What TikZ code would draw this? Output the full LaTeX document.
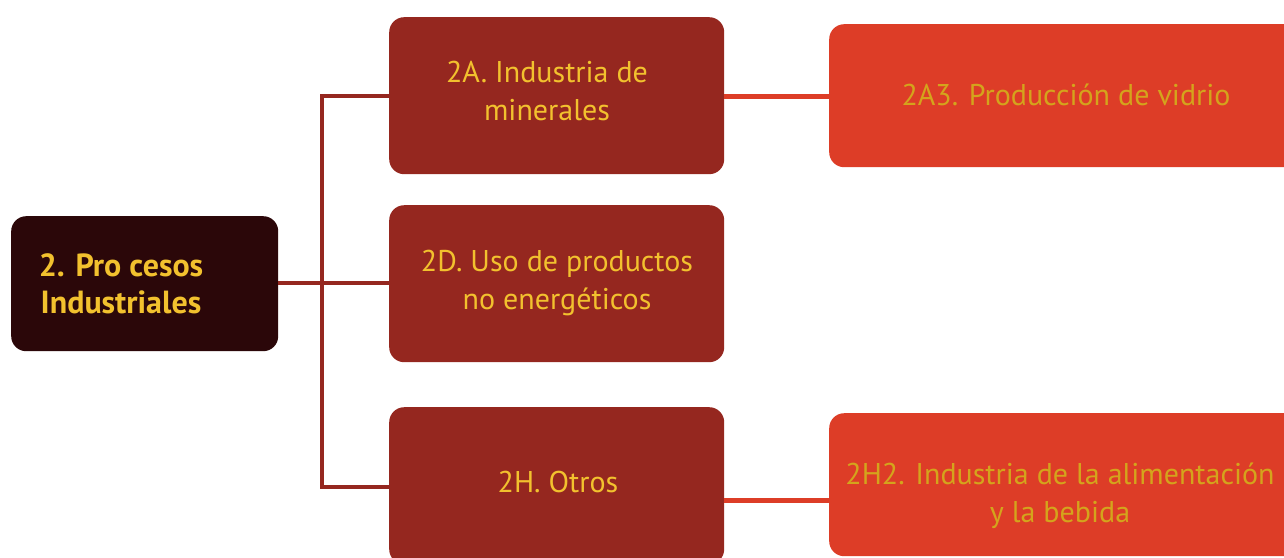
\documentclass[tikz,border=0pt]{standalone}
\usepackage{fontspec}
\setmainfont{PT Sans}
\definecolor{cDark}{HTML}{2B0709}
\definecolor{cMid}{HTML}{95271F}
\definecolor{cLight}{HTML}{DD3D27}
\definecolor{cYel}{HTML}{F2C12E}
\definecolor{cGold}{HTML}{D4A41C}
\tikzset{
  box/.style={rounded corners=15pt, inner sep=0pt, anchor=north west},
  midbox/.style={box, fill=cMid, minimum width=335pt, minimum height=157pt},
  lightbox/.style={box, fill=cLight, minimum width=470pt, minimum height=143pt},
  txt/.style={align=center, inner sep=0pt, font=\fontsize{30}{37.5}\selectfont},
  trunk/.style={draw=cMid, line width=4pt},
  twig/.style={draw=cLight, line width=5pt},
}
\begin{document}
\begin{tikzpicture}[x=1pt,y=-1pt]
\useasboundingbox (0,0) rectangle (1284,557);
% boxes
\node[box, fill=cDark, minimum width=267pt, minimum height=135pt] (root) at (11,216) {};
\node[midbox] (a) at (389,17) {};
\node[midbox] (d) at (389,205) {};
\node[midbox] (h) at (389,407) {};
\node[lightbox] (a3) at (829,24) {};
\node[lightbox] (h2) at (829,413) {};
% coordinates of trunk
\coordinate (jt) at (322,96);
\coordinate (jm) at (322,283);
\coordinate (jb) at (322,487);
% connectors
\draw[trunk] (root.east |- jm) -- (d.west |- jm);
\draw[trunk] ([xshift=-2pt]jt) -- (a.west |- jt);
\draw[trunk] ([xshift=-2pt]jb) -- (h.west |- jb);
\draw[trunk] (jt) -- (jb);
\draw[twig] (a.east |- jt) -- (a3.west |- jt);
\coordinate (jh) at (724,500);
\draw[twig] (h.east |- jh) -- (h2.west |- jh);
% texts
\node[txt, text=cYel, font=\fontsize{32}{37.5}\selectfont\bfseries] (troot) at (121,284) {2. Pro cesos\\Industriales};
\node[txt, text=cYel] (ta) at (547,91) {2A. Industria de\\minerales};
\node[txt, text=cYel] (td) at (557,283) {2D. Uso de productos\\no energéticos};
\node[txt, text=cYel] (th) at (558,482) {2H. Otros};
\node[txt, text=cGold] (ta3) at (1066,95) {2A3. Producción de vidrio};
\node[txt, text=cGold] (th2) at (1060,496) {2H2. Industria de la alimentación\\y la bebida};
\end{tikzpicture}
\end{document}
